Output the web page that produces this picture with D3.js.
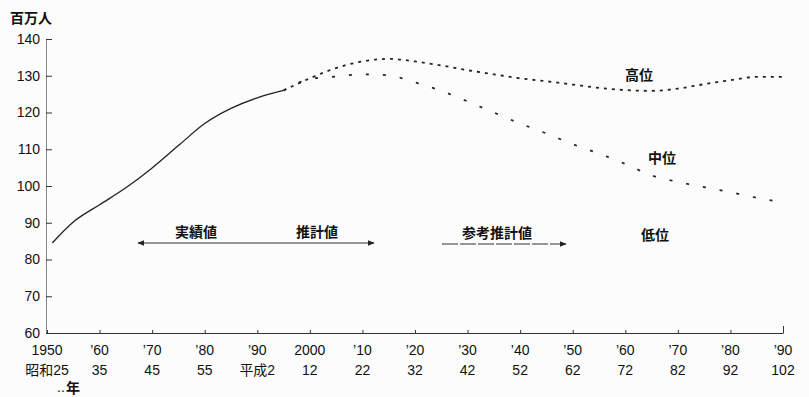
<!DOCTYPE html>
<html>
<head>
<meta charset="utf-8">
<script src="https://cdn.jsdelivr.net/npm/d3@7"></script>
<style>
	body { margin: 0; background: #fcfcfc; }
	svg { display: block; }
	text { font-family: "Liberation Sans", Arial, "Noto Sans CJK JP", sans-serif; fill: #111; }
	.jp { font-family: "Noto Sans CJK JP", sans-serif; font-weight: bold; }
</style>
</head>
<body>
<svg id="chart" width="809" height="397"></svg>
<script>
/* population of Japan, millions */
var actual_years = [1951, 1955, 1960, 1965, 1970, 1975, 1980, 1985, 1990, 1995];
var actual_values = [84.5, 90.2, 94.9, 99.5, 104.9, 111.0, 117.0, 121.1, 124.0, 126.0];

var proj_years = [1995, 2000, 2005, 2010, 2015, 2020, 2025, 2030, 2035, 2040, 2045, 2050, 2055, 2060, 2065, 2070, 2075, 2080, 2085, 2090];
var high_values = [126.0, 129.3, 132.1, 133.9, 134.6, 133.9, 132.8, 131.5, 130.4, 129.3, 128.5, 127.6, 126.7, 126.1, 125.9, 126.5, 127.7, 128.8, 129.7, 129.7];
var medium_values = [126.0, 129.1, 129.8, 130.4, 130.1, 128.2, 125.9, 123.0, 120.0, 117.0, 114.3, 111.4, 108.8, 106.0, 102.9, 101.1, 99.7, 98.3, 96.8, 95.5];

var x_ticks = [1950, 1960, 1970, 1980, 1990, 2000, 2010, 2020, 2030, 2040, 2050, 2060, 2070, 2080, 2090];
var x_labels_ad = ["1950", "’60", "’70", "’80", "’90", "2000", "’10", "’20", "’30", "’40", "’50", "’60", "’70", "’80", "’90"];
var x_labels_era = ["昭和25", "35", "45", "55", "平成2", "12", "22", "32", "42", "52", "62", "72", "82", "92", "102"];
var y_ticks = [60, 70, 80, 90, 100, 110, 120, 130, 140];

var svg = d3.select('#chart');

var x = d3.scaleLinear().domain([1950, 2090]).range([47, 783]);
var y = d3.scaleLinear().domain([60, 140]).range([333, 39]);

function draw_axes(){

	// y axis, ticks pointing inward
	var y_axis = svg.append("g")
	.attr("transform", "translate(46,0)")
	.call(d3.axisLeft(y).tickValues(y_ticks).tickSize(-6).tickPadding(6));

	y_axis.select(".domain").attr("stroke", "#888");
	y_axis.selectAll(".tick line").attr("stroke", "#333");
	y_axis.selectAll(".tick text")
	.attr("font-size", 14)
	.attr("fill", "#111");

	// x axis with small upward ticks
	var x_axis = svg.append("g")
	.attr("transform", "translate(0,333)")
	.call(d3.axisBottom(x).tickValues(x_ticks).tickSize(-3).tickSizeOuter(0).tickFormat(""));

	x_axis.select(".domain").attr("stroke", "#333");
	x_axis.selectAll(".tick line")
	.attr("stroke", "#333")
	.attr("y2", function(d){ return d == 2090 ? -7 : -3; });

	svg.append("g").selectAll("text")
	.data(x_ticks)
	.enter().append("text")
	.attr("x", function(d){ return x(d); })
	.attr("y", 355)
	.attr("text-anchor", "middle")
	.attr("font-size", 14)
	.text(function(d, i){ return x_labels_ad[i]; });

	svg.append("g").selectAll("text")
	.data(x_ticks)
	.enter().append("text")
	.attr("x", function(d){ return x(d); })
	.attr("y", 375)
	.attr("text-anchor", "middle")
	.attr("font-size", 14)
	.text(function(d, i){ return x_labels_era[i]; });

	svg.append("text")
	.attr("x", 57)
	.attr("y", 392)
	.attr("font-size", 14)
	.text("..");

	svg.append("text")
	.attr("class", "jp")
	.attr("x", 66)
	.attr("y", 393)
	.attr("font-size", 14)
	.text("年");

	svg.append("text")
	.attr("class", "jp")
	.attr("x", 10)
	.attr("y", 23)
	.attr("font-size", 14)
	.text("百万人");
}

function draw_lines(){

	var line = d3.line()
	.x(function(d){ return x(d[0]); })
	.y(function(d){ return y(d[1]); })
	.curve(d3.curveMonotoneX);

	svg.append("path")
	.datum(d3.zip(actual_years, actual_values))
	.attr("d", line)
	.attr("fill", "none")
	.attr("stroke", "#222")
	.attr("stroke-width", 1.3);

	svg.append("path")
	.datum(d3.zip(proj_years, high_values))
	.attr("d", line)
	.attr("fill", "none")
	.attr("stroke", "#222")
	.attr("stroke-width", 1.8)
	.attr("stroke-dasharray", "3,5");

	svg.append("path")
	.datum(d3.zip(proj_years, medium_values))
	.attr("d", line)
	.attr("fill", "none")
	.attr("stroke", "#222")
	.attr("stroke-width", 1.7)
	.attr("stroke-dasharray", "3,14");
}

function draw_notes(){

	var defs = svg.append("defs");

	defs.append("marker")
	.attr("id", "head")
	.attr("viewBox", "0 0 10 10")
	.attr("refX", 9)
	.attr("refY", 5)
	.attr("markerWidth", 7)
	.attr("markerHeight", 7)
	.attr("markerUnits", "userSpaceOnUse")
	.attr("orient", "auto-start-reverse")
	.append("path")
	.attr("d", "M0,1 L10,5 L0,9 Z")
	.attr("fill", "#222");

	svg.append("line")
	.attr("x1", 138).attr("y1", 243)
	.attr("x2", 374).attr("y2", 243)
	.attr("stroke", "#333")
	.attr("stroke-width", 1.2)
	.attr("marker-start", "url(#head)")
	.attr("marker-end", "url(#head)");

	svg.append("line")
	.attr("x1", 442).attr("y1", 244)
	.attr("x2", 566).attr("y2", 244)
	.attr("stroke", "#333")
	.attr("stroke-width", 1.2)
	.attr("stroke-dasharray", "16,2")
	.attr("marker-end", "url(#head)");

	var notes = [
		{ text: "実績値", x: 196, y: 232 },
		{ text: "推計値", x: 317, y: 232 },
		{ text: "参考推計値", x: 497, y: 233 },
		{ text: "低位", x: 655, y: 235 },
		{ text: "高位", x: 639, y: 75 },
		{ text: "中位", x: 662, y: 158 }
	];

	svg.append("g").selectAll("text")
	.data(notes)
	.enter().append("text")
	.attr("class", "jp")
	.attr("x", function(d){ return d.x; })
	.attr("y", function(d){ return d.y; })
	.attr("dy", ".35em")
	.attr("text-anchor", "middle")
	.attr("font-size", 14)
	.text(function(d){ return d.text; });
}

draw_axes();
draw_lines();
draw_notes();
</script>
</body>
</html>
